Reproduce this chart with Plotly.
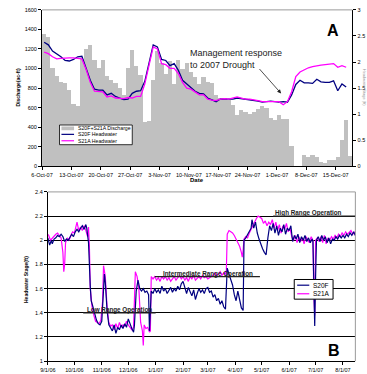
import plotly.graph_objects as go
import pandas as pd

W, H = 367, 374
def px(x): return x / W
def py(y): return 1 - y / H

FONT = "Arial, Liberation Sans, sans-serif"
GRAY_BAR = "#c0c0c0"
BLUE = "#000080"
MAGENTA = "#ff00ff"

# ---------------- Panel A data (daily, starting 6-Oct-07) ----------------
a_start = "2007-10-06"
a_discharge = [1350, 1320, 1010, 930, 865, 850, 780, 635, 620, 1100,
               1200, 1240, 1085, 1010, 1085, 925, 880, 850, 800, 735,
               1010, 1190, 1030, 940, 455, 460, 880, 1180, 1060, 950,
               1075, 845, 1090, 1000, 1060, 966, 916, 840, 910, 860,
               850, 735, 700, 700, 680, 630, 530, 580, 560, 540,
               560, 590, 615, 600, 495, 480, 530, 490, 490, 210,
               0, 0, 120, 100, 120, 95, 45, 40, 62, 68,
               100, 268, 470, 104]
a_s20f = [2.38, 2.33, 2.21, 2.16, 2.10, 2.03, 2.02, 2.05, 2.10, 2.11,
          1.89, 1.65, 1.48, 1.46, 1.46, 1.37, 1.40, 1.34, 1.31, 1.28,
          1.29, 1.40, 1.44, 1.45, 1.63, 1.99, 2.33, 2.29, 2.05, 2.03,
          1.93, 1.97, 1.84, 1.65, 1.58, 1.52, 1.44, 1.40, 1.39, 1.31,
          1.28, 1.24, 1.29, 1.29, 1.28, 1.29, 1.31, 1.30, 1.28, 1.27,
          1.27, 1.25, 1.23, 1.24, 1.25, 1.24, 1.23, 1.24, 1.23, 1.37,
          1.57, 1.65, 1.60, 1.60, 1.59, 1.67, 1.62, 1.61, 1.61, 1.64,
          1.45, 1.58, 1.52]
a_s21a = [2.19, 2.16, 2.10, 2.06, 2.07, 2.08, 2.08, 2.08, 2.07, 2.06,
          1.86, 1.61, 1.44, 1.43, 1.43, 1.33, 1.35, 1.31, 1.31, 1.30,
          1.32, 1.31, 1.34, 1.34, 1.58, 1.95, 2.29, 2.25, 1.97, 1.95,
          1.88, 1.88, 1.78, 1.61, 1.50, 1.48, 1.42, 1.37, 1.37, 1.29,
          1.27, 1.26, 1.29, 1.30, 1.29, 1.31, 1.33, 1.31, 1.29, 1.29,
          1.28, 1.26, 1.24, 1.24, 1.24, 1.24, 1.24, 1.18, 1.24, 1.43,
          1.72, 1.81, 1.85, 1.89, 1.91, 1.93, 1.94, 1.95, 1.96, 1.97,
          1.90, 1.93, 1.90]
a_tick_labels = ["6-Oct-07", "13-Oct-07", "20-Oct-07", "27-Oct-07", "3-Nov-07",
                 "10-Nov-07", "17-Nov-07", "24-Nov-07", "1-Dec-07", "8-Dec-07",
                 "15-Dec-07"]
a_left_ticks = [0, 200, 400, 600, 800, 1000, 1200, 1400, 1600]
a_right_ticks = [0, 0.5, 1, 1.5, 2, 2.5, 3]
a_right_labels = ["0", "0.5", "1", "1.5", "2", "2.5", "3"]

# ---------------- Panel B data ----------------
b_s20f_dates = ["9/1/06", "9/2/06", "9/3/06", "9/5/06", "9/6/06", "9/8/06", "9/10/06", "9/12/06", "9/14/06", "9/16/06",
                "9/18/06", "9/20/06", "9/22/06", "9/24/06", "9/26/06", "9/28/06", "9/30/06", "10/2/06", "10/4/06", "10/6/06",
                "10/8/06", "10/10/06", "10/12/06", "10/14/06", "10/15/06", "10/16/06", "10/17/06", "10/19/06", "10/20/06", "10/22/06",
                "10/24/06", "10/26/06", "10/28/06", "10/30/06", "11/1/06", "11/3/06", "11/4/06", "11/5/06", "11/7/06", "11/9/06",
                "11/11/06", "11/13/06", "11/15/06", "11/17/06", "11/19/06", "11/21/06", "11/23/06", "11/25/06", "11/27/06", "11/29/06",
                "12/1/06", "12/3/06", "12/5/06", "12/7/06", "12/8/06", "12/10/06", "12/12/06", "12/14/06", "12/16/06", "12/18/06",
                "12/20/06", "12/22/06", "12/24/06", "12/25/06", "12/26/06", "12/27/06", "12/29/06", "12/31/06", "1/2/07", "1/4/07",
                "1/6/07", "1/8/07", "1/10/07", "1/12/07", "1/14/07", "1/16/07", "1/18/07", "1/20/07", "1/22/07", "1/24/07",
                "1/26/07", "1/28/07", "1/30/07", "2/1/07", "2/3/07", "2/5/07", "2/7/07", "2/9/07", "2/11/07", "2/13/07",
                "2/15/07", "2/17/07", "2/19/07", "2/21/07", "2/23/07", "2/25/07", "2/27/07", "3/1/07", "3/3/07", "3/5/07",
                "3/7/07", "3/9/07", "3/11/07", "3/13/07", "3/15/07", "3/17/07", "3/19/07", "3/21/07", "3/23/07", "3/25/07",
                "3/27/07", "3/29/07", "3/31/07", "4/2/07", "4/4/07", "4/6/07", "4/8/07", "4/10/07", "4/11/07", "4/13/07",
                "4/15/07", "4/17/07", "4/19/07", "4/20/07", "4/22/07", "4/24/07", "4/26/07", "4/28/07", "4/30/07", "5/2/07",
                "5/4/07", "5/6/07", "5/8/07", "5/10/07", "5/12/07", "5/14/07", "5/16/07", "5/18/07", "5/20/07", "5/22/07",
                "5/24/07", "5/26/07", "5/28/07", "5/30/07", "6/1/07", "6/3/07", "6/5/07", "6/7/07", "6/9/07", "6/11/07",
                "6/13/07", "6/15/07", "6/17/07", "6/19/07", "6/21/07", "6/23/07", "6/25/07", "6/27/07", "6/28/07", "6/29/07",
                "6/30/07", "7/1/07", "7/2/07", "7/4/07", "7/6/07", "7/8/07", "7/10/07", "7/12/07", "7/14/07", "7/16/07",
                "7/18/07", "7/20/07", "7/22/07", "7/24/07", "7/26/07", "7/28/07", "7/30/07", "8/1/07", "8/3/07", "8/5/07",
                "8/7/07", "8/9/07", "8/11/07", "8/13/07", "8/15/07"]
b_s20f = [2.02, 1.99, 1.96, 2.00, 1.97, 2.01, 2.02, 2.04, 2.03, 2.05,
          2.03, 1.99, 2.01, 2.00, 2.03, 2.05, 2.03, 2.07, 2.09, 2.07,
          2.10, 2.12, 2.09, 2.13, 2.10, 2.05, 1.98, 1.62, 1.50, 1.45,
          1.38, 1.34, 1.31, 1.30, 1.33, 1.55, 1.72, 1.65, 1.42, 1.30,
          1.28, 1.25, 1.30, 1.23, 1.28, 1.26, 1.30, 1.27, 1.31, 1.28,
          1.35, 1.30, 1.27, 1.24, 1.30, 1.58, 1.67, 1.60, 1.58, 1.60,
          1.57, 1.58, 1.55, 1.25, 1.40, 1.58, 1.56, 1.60, 1.57, 1.59,
          1.56, 1.62, 1.58, 1.60, 1.56, 1.59, 1.61, 1.57, 1.60, 1.58,
          1.62, 1.59, 1.64, 1.66, 1.60, 1.56, 1.61, 1.58, 1.54, 1.59,
          1.51, 1.56, 1.60, 1.57, 1.59, 1.56, 1.60, 1.61, 1.57, 1.58,
          1.53, 1.55, 1.50, 1.52, 1.47, 1.50, 1.45, 1.43, 1.77, 1.72,
          1.68, 1.63, 1.55, 1.50, 1.58, 1.50, 1.44, 1.42, 2.00, 2.02,
          2.05, 2.07, 2.10, 2.17, 2.10, 2.15, 2.06, 2.01, 1.96, 1.93,
          1.90, 1.88, 2.02, 2.12, 2.08, 2.14, 2.06, 2.12, 2.04, 2.10,
          2.07, 2.13, 2.05, 2.10, 2.08, 2.12, 1.99, 2.04, 2.01, 2.05,
          1.98, 2.03, 2.00, 2.04, 1.99, 2.02, 1.98, 2.01, 1.99, 1.60,
          1.29, 1.70, 2.00, 2.03, 1.99, 2.04, 2.00, 2.03, 1.98, 2.02,
          1.97, 2.01, 2.00, 2.03, 2.01, 2.04, 2.02, 2.04, 2.02, 2.05,
          2.03, 2.06, 2.04, 2.07, 2.04]
b_s21a_dates = ["9/1/06", "9/2/06", "9/4/06", "9/6/06", "9/8/06", "9/10/06", "9/12/06", "9/14/06", "9/16/06", "9/18/06",
                "9/19/06", "9/20/06", "9/21/06", "9/23/06", "9/25/06", "9/27/06", "9/29/06", "10/1/06", "10/3/06", "10/4/06",
                "10/6/06", "10/8/06", "10/10/06", "10/12/06", "10/14/06", "10/16/06", "10/17/06", "10/18/06", "10/19/06", "10/21/06",
                "10/23/06", "10/25/06", "10/27/06", "10/29/06", "10/31/06", "11/2/06", "11/3/06", "11/5/06", "11/7/06", "11/9/06",
                "11/11/06", "11/13/06", "11/15/06", "11/17/06", "11/19/06", "11/21/06", "11/23/06", "11/25/06", "11/27/06", "11/29/06",
                "12/1/06", "12/3/06", "12/5/06", "12/7/06", "12/8/06", "12/9/06", "12/11/06", "12/13/06", "12/15/06", "12/17/06",
                "12/18/06", "12/19/06", "12/21/06", "12/23/06", "12/25/06", "12/26/06", "12/27/06", "12/29/06", "12/31/06", "1/2/07",
                "1/4/07", "1/6/07", "1/8/07", "1/10/07", "1/12/07", "1/14/07", "1/16/07", "1/18/07", "1/20/07", "1/22/07",
                "1/24/07", "1/26/07", "1/28/07", "1/30/07", "2/1/07", "2/3/07", "2/5/07", "2/7/07", "2/9/07", "2/11/07",
                "2/13/07", "2/15/07", "2/17/07", "2/19/07", "2/21/07", "2/23/07", "2/25/07", "2/27/07", "3/1/07", "3/3/07",
                "3/5/07", "3/7/07", "3/9/07", "3/11/07", "3/13/07", "3/15/07", "3/17/07", "3/19/07", "3/21/07", "3/22/07",
                "3/23/07", "3/25/07", "3/27/07", "3/29/07", "3/31/07", "4/2/07", "4/4/07", "4/6/07", "4/8/07", "4/9/07",
                "4/10/07", "4/11/07", "4/13/07", "4/15/07", "4/17/07", "4/19/07", "4/21/07", "4/23/07", "4/25/07", "4/27/07",
                "4/29/07", "5/1/07", "5/3/07", "5/5/07", "5/7/07", "5/9/07", "5/11/07", "5/13/07", "5/15/07", "5/17/07",
                "5/19/07", "5/21/07", "5/23/07", "5/25/07", "5/27/07", "5/29/07", "5/31/07", "6/2/07", "6/4/07", "6/6/07",
                "6/8/07", "6/10/07", "6/12/07", "6/14/07", "6/16/07", "6/18/07", "6/20/07", "6/22/07", "6/24/07", "6/26/07",
                "6/28/07", "6/29/07", "6/30/07", "7/1/07", "7/3/07", "7/5/07", "7/7/07", "7/9/07", "7/11/07", "7/13/07",
                "7/15/07", "7/17/07", "7/19/07", "7/21/07", "7/23/07", "7/25/07", "7/27/07", "7/29/07", "7/31/07", "8/2/07",
                "8/4/07", "8/6/07", "8/8/07", "8/10/07", "8/12/07", "8/14/07", "8/15/07"]
b_s21a = [2.05, 2.04, 2.00, 2.02, 2.03, 2.05, 2.06, 2.04, 2.02, 1.90,
          1.74, 1.80, 1.98, 2.02, 2.00, 2.04, 2.07, 2.06, 2.12, 2.15,
          2.08, 2.11, 2.08, 2.12, 2.08, 2.03, 2.11, 1.95, 1.60, 1.45,
          1.38, 1.33, 1.32, 1.31, 1.34, 1.50, 1.79, 1.70, 1.45, 1.32,
          1.29, 1.30, 1.26, 1.31, 1.27, 1.32, 1.28, 1.30, 1.29, 1.33,
          1.30, 1.28, 1.26, 1.28, 1.45, 1.74, 1.70, 1.60, 1.32, 1.25,
          1.13, 1.30, 1.27, 1.28, 1.24, 1.25, 1.70, 1.68, 1.70, 1.67,
          1.69, 1.66, 1.70, 1.68, 1.70, 1.67, 1.69, 1.66, 1.68, 1.70,
          1.67, 1.69, 1.71, 1.68, 1.70, 1.67, 1.69, 1.66, 1.70, 1.68,
          1.71, 1.67, 1.69, 1.70, 1.68, 1.71, 1.69, 1.70, 1.68, 1.69,
          1.70, 1.71, 1.73, 1.71, 1.72, 1.74, 1.71, 1.73, 1.72, 1.75,
          2.05, 2.08, 2.07, 2.06, 2.04, 2.01, 1.98, 1.95, 1.90, 1.86,
          1.92, 2.01, 2.03, 2.02, 2.06, 2.09, 2.13, 2.15, 2.18, 2.20,
          2.19, 2.18, 2.14, 2.16, 2.12, 2.15, 2.13, 2.17, 2.10, 2.15,
          2.08, 2.13, 2.06, 2.12, 2.09, 2.14, 2.07, 2.10, 2.03, 2.00,
          2.04, 1.98, 2.03, 1.99, 2.02, 1.97, 2.03, 2.00, 1.98, 2.03,
          2.00, 1.55, 1.38, 2.00, 2.02, 1.99, 2.03, 1.98, 2.04, 1.97,
          2.02, 2.00, 2.03, 2.01, 2.04, 2.02, 2.05, 2.03, 2.06, 2.04,
          2.07, 2.05, 2.07, 2.08, 2.05, 2.07, 2.04]
b_tick_dates = ["2006-09-01", "2006-10-01", "2006-11-01", "2006-12-01", "2007-01-01", "2007-02-01",
                "2007-03-01", "2007-04-01", "2007-05-01", "2007-06-01", "2007-07-01", "2007-08-01"]
b_tick_labels = ["9/1/06", "10/1/06", "11/1/06", "12/1/06", "1/1/07", "2/1/07",
                 "3/1/07", "4/1/07", "5/1/07", "6/1/07", "7/1/07", "8/1/07"]
b_y_ticks = [1, 1.2, 1.4, 1.6, 1.8, 2, 2.2, 2.4]

# ---------------- build ----------------
a_bar_x = pd.date_range(a_start, periods=len(a_discharge), freq="D") + pd.Timedelta(hours=12)
a_line_x = a_bar_x[:len(a_s20f)]
a_tick_x = pd.date_range(a_start, periods=len(a_tick_labels), freq="7D")
b_s20f_x = pd.to_datetime(b_s20f_dates, format="%m/%d/%y")
b_s21a_x = pd.to_datetime(b_s21a_dates, format="%m/%d/%y")

fig = go.Figure()
fig.add_trace(go.Bar(x=a_bar_x, y=a_discharge, width=86400000, marker=dict(color=GRAY_BAR, line=dict(width=0)),
                     name="S20F+S21A Discharge", xaxis="x", yaxis="y", showlegend=False))
fig.add_trace(go.Scatter(x=a_line_x, y=a_s20f, mode="lines", line=dict(color=BLUE, width=1.3),
                         name="S20F Headwater", xaxis="x", yaxis="y2", showlegend=False))
fig.add_trace(go.Scatter(x=a_line_x, y=a_s21a, mode="lines", line=dict(color=MAGENTA, width=1.3),
                         name="S21A Headwater", xaxis="x", yaxis="y2", showlegend=False))
fig.add_trace(go.Scatter(x=b_s21a_x, y=b_s21a, mode="lines", line=dict(color=MAGENTA, width=1.2),
                         name="S21A", xaxis="x2", yaxis="y3", showlegend=False))
fig.add_trace(go.Scatter(x=b_s20f_x, y=b_s20f, mode="lines", line=dict(color=BLUE, width=1.2),
                         name="S20F", xaxis="x2", yaxis="y3", showlegend=False))

axis_common = dict(showline=True, linecolor="black", linewidth=1, ticks="outside", ticklen=3,
                   tickcolor="black", tickwidth=1, showgrid=False, zeroline=False,
                   tickfont=dict(family=FONT, size=5.5, color="black"))

shapes = []
annotations = []

fig.update_layout(
    width=W, height=H, margin=dict(l=0, r=0, t=0, b=0),
    paper_bgcolor="white", plot_bgcolor="white", bargap=0,
    font=dict(family=FONT, color="black"),
    xaxis=dict(axis_common, domain=[px(32), px(352)], anchor="y", type="date",
               range=["2007-10-06", "2007-12-19"], tickvals=a_tick_x, ticktext=a_tick_labels),
    yaxis=dict(axis_common, domain=[py(166), py(7)], anchor="x", range=[0, 1600],
               tickvals=a_left_ticks),
    yaxis2=dict(axis_common, overlaying="y", side="right", anchor="x", range=[0, 3],
                tickvals=a_right_ticks, ticktext=a_right_labels),
    xaxis2=dict(axis_common, domain=[px(38), px(355)], anchor="y3", type="date",
                range=["2006-09-01", "2007-08-15"], tickvals=b_tick_dates, ticktext=b_tick_labels),
    yaxis3=dict(axis_common, domain=[py(364), py(192)], anchor="x2", range=[1, 2.4],
                tickvals=b_y_ticks, ticktext=["1", "1.2", "1.4", "1.6", "1.8", "2", "2.2", "2.4"],
                showgrid=True, gridcolor="black", gridwidth=1),
)

# Borders (top gray) for panel A and B
shapes.append(dict(type="line", xref="paper", yref="paper", x0=px(32), x1=px(352), y0=py(7), y1=py(7),
                   line=dict(color="#9a9a9a", width=1), layer="above"))
shapes.append(dict(type="line", xref="paper", yref="paper", x0=px(38), x1=px(355), y0=py(192), y1=py(192),
                   line=dict(color="#9a9a9a", width=1), layer="above"))
shapes.append(dict(type="line", xref="paper", yref="paper", x0=px(355), x1=px(355), y0=py(192), y1=py(364),
                   line=dict(color="#9a9a9a", width=1), layer="above"))

# Range operation underline segments (panel B)
for x0, x1, yv in [("2007-05-14", "2007-08-15", 2.2), ("2006-12-31", "2007-04-29", 1.7), ("2006-10-11", "2007-01-01", 1.4)]:
    shapes.append(dict(type="line", xref="x2", yref="y3", x0=x0, x1=x1, y0=yv, y1=yv,
                       line=dict(color="#222222", width=1.2), layer="above"))

# Legend A (manual)
shapes.append(dict(type="rect", xref="paper", yref="paper", x0=px(50), x1=px(125), y0=py(144), y1=py(124),
                   line=dict(color="black", width=0.8), fillcolor="white", layer="above"))
shapes.append(dict(type="rect", xref="paper", yref="paper", x0=px(52), x1=px(65), y0=py(129.3), y1=py(125.5),
                   line=dict(width=0), fillcolor=GRAY_BAR, layer="above"))
shapes.append(dict(type="line", xref="paper", yref="paper", x0=px(52), x1=px(65), y0=py(133.5), y1=py(133.5),
                   line=dict(color=BLUE, width=1.2), layer="above"))
shapes.append(dict(type="line", xref="paper", yref="paper", x0=px(52), x1=px(65), y0=py(140), y1=py(140),
                   line=dict(color=MAGENTA, width=1.2), layer="above"))
for txt, yy in [("S20F+S21A Discharge", 127.4), ("S20F Headwater", 133.6), ("S21A Headwater", 140.1)]:
    annotations.append(dict(text=txt, x=px(66.5), y=py(yy), xref="paper", yref="paper", xanchor="left",
                            yanchor="middle", showarrow=False, font=dict(family=FONT, size=5.2, color="black")))

# Legend B (manual)
shapes.append(dict(type="rect", xref="paper", yref="paper", x0=px(292), x1=px(332), y0=py(301), y1=py(281),
                   line=dict(color="black", width=1), fillcolor="white", layer="above"))
shapes.append(dict(type="line", xref="paper", yref="paper", x0=px(295), x1=px(307.5), y0=py(286.8), y1=py(286.8),
                   line=dict(color=BLUE, width=1.2), layer="above"))
shapes.append(dict(type="line", xref="paper", yref="paper", x0=px(295), x1=px(307.5), y0=py(295.5), y1=py(295.5),
                   line=dict(color=MAGENTA, width=1.2), layer="above"))
for txt, yy in [("S20F", 286.8), ("S21A", 295.5)]:
    annotations.append(dict(text=txt, x=px(309), y=py(yy), xref="paper", yref="paper", xanchor="left",
                            yanchor="middle", showarrow=False, font=dict(family=FONT, size=6.5, color="black")))

def note(text, x, y, size, color="black", angle=0, xanchor="center", align="center"):
    return dict(text=text, x=px(x), y=py(y), xref="paper", yref="paper", showarrow=False,
                xanchor=xanchor, yanchor="middle", align=align, textangle=angle,
                font=dict(family=FONT, size=size, color=color))

# Axis titles
annotations += [
    note("<b>Date</b>", 192, 180, 6),
    note("<b>Discharge(ac-ft)</b>", 7, 86, 5, angle=-90),
    note("Headwater Stage (ft)", 364.8, 86, 4, color="#999999", angle=90),
    note("<b>Headwater Stage(ft)</b>", 16, 281, 5, angle=-90),
]

# Panel labels and notes
annotations += [
    note("<b>A</b>", 332, 27.5, 16),
    note("<b>B</b>", 333, 353, 16),
    note("Management response<br>to 2007 Drought", 182, 56.5, 9, color="#222222", xanchor="left", align="left"),
    dict(text="", x=px(278.5), y=py(92), xref="paper", yref="paper", showarrow=True,
         ax=-23, ay=-26, arrowhead=2, arrowsize=1, arrowwidth=0.8, arrowcolor="#222222"),
    note("<b>High Range Operation</b>", 307, 213.3, 6.3, color="#222222"),
    note("<b>Intermediate Range Operation</b>", 203, 275.3, 6.3, color="#222222"),
    note("<b>Low Range Operation</b>", 112, 312.3, 6.3, color="#222222"),
]

fig.update_layout(shapes=shapes, annotations=annotations)
fig.write_html("out.html", config={"displayModeBar": False},
               post_script="document.body.style.margin='0';document.body.style.overflow='hidden';")
